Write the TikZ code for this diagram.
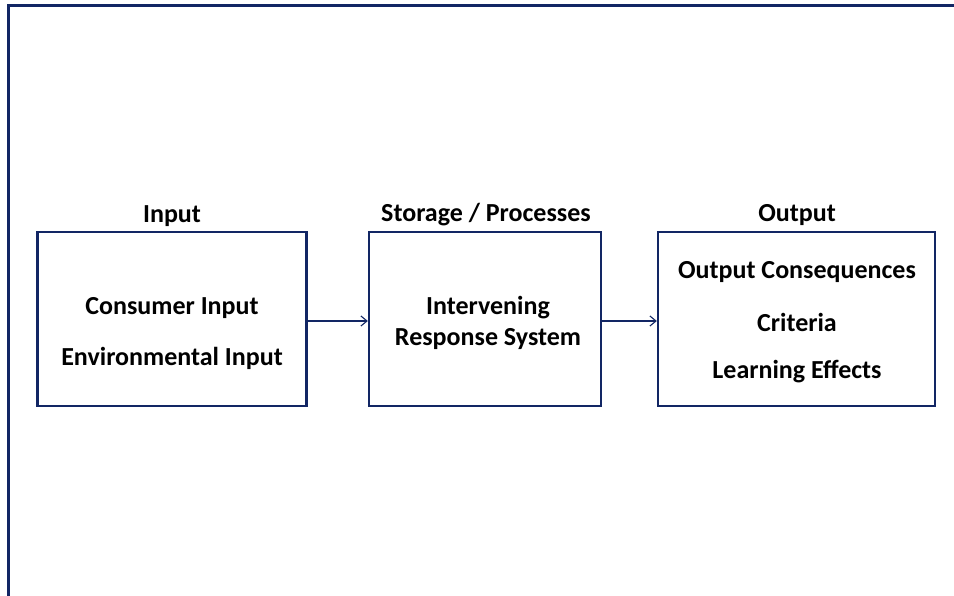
\documentclass[tikz,border=0pt]{standalone}
\usepackage{fontspec}
\setmainfont{Carlito}
\usetikzlibrary{arrows.meta}
\definecolor{navy}{RGB}{18,38,100}
\begin{document}
\begin{tikzpicture}[x=1pt,y=-1pt,
  stagebox/.style={draw=navy,line width=2.4pt,minimum width=#1,minimum height=174pt,inner sep=0pt},
  stagelabel/.style={font=\fontsize{26}{30}\selectfont\bfseries,text=black,inner sep=0pt},
  boxtext/.style={font=\fontsize{26}{30}\selectfont\bfseries,text=black,inner sep=0pt},
  flow/.style={draw=navy,line width=1.3pt,-{Straight Barb[length=6pt,width=10pt,line width=1.1pt]}}]
\useasboundingbox (0,0) rectangle (954,596);
\clip (0,0) rectangle (954,596);
% outer frame, running off the right and bottom edges
\draw[navy,line width=3.6pt] (8.5,610) -- (8.5,5.5) -- (970,5.5);
% the three stages
\node[stagebox=269pt] (in) at (172,319) {};
\node[stagebox=232pt] (proc) at (485,319) {};
\node[stagebox=277pt] (out) at (796.5,319) {};
% stage headings
\node[stagelabel] (inlab) at (172,216) {Input};
\node[stagelabel] (proclab) at (486,215) {Storage / Processes};
\node[stagelabel] (outlab) at (797,215) {Output};
% stage contents
\node[boxtext] (t1) at (172,308) {Consumer Input};
\node[boxtext] (t2) at (172,358) {Environmental Input};
\node[boxtext] (t3) at (488,308) {Intervening};
\node[boxtext] (t4) at (488,339) {Response System};
\node[boxtext] (t5) at (797,272) {Output Consequences};
\node[boxtext] (t6) at (797,322) {Criteria};
\node[boxtext] (t7) at (797,372) {Learning Effects};
% flow between stages
\draw[flow] (in.east |- 0,321) -- (proc.west |- 0,321);
\draw[flow] (proc.east |- 0,321) -- (out.west |- 0,321);
\end{tikzpicture}
\end{document}
